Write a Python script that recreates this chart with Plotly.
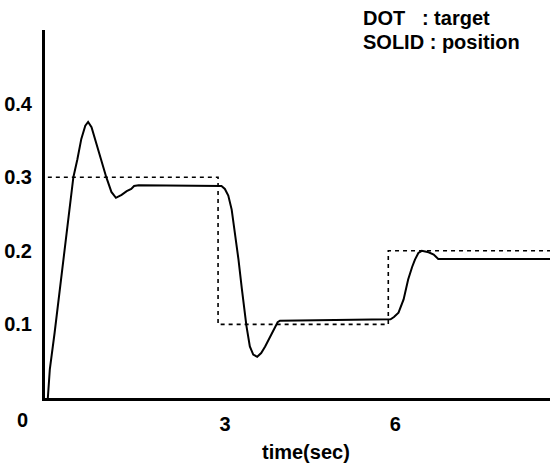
import plotly.graph_objects as go

# ---- data ----
target_time = [0.0, 3.0, 6.0, 8.85]
target_value = [0.3, 0.1, 0.2, 0.2]

position_time = [0.0, 0.035, 0.12, 0.26, 0.39, 0.45, 0.52, 0.59, 0.66, 0.71, 0.77,
                 0.83, 0.93, 1.03, 1.12, 1.2, 1.3, 1.39, 1.47, 1.52, 1.6, 2.5,
                 3.06, 3.12, 3.18, 3.24, 3.3, 3.36, 3.42, 3.47, 3.5, 3.56, 3.62,
                 3.69, 3.76, 3.83, 3.95, 4.05, 4.09, 5.0, 6.04, 6.1, 6.18, 6.27,
                 6.35, 6.42, 6.47, 6.53, 6.59, 6.65, 6.71, 6.8, 6.88, 7.5, 8.85]
position_value = [0.0, 0.039, 0.089, 0.179, 0.256, 0.30, 0.324, 0.352, 0.370, 0.375, 0.368,
                  0.352, 0.324, 0.30, 0.28, 0.272, 0.276, 0.281, 0.284, 0.288, 0.289, 0.289,
                  0.288, 0.284, 0.275, 0.256, 0.225, 0.188, 0.148, 0.111, 0.098, 0.07, 0.059,
                  0.056, 0.061, 0.07, 0.089, 0.103, 0.105, 0.106, 0.107, 0.11, 0.116, 0.134,
                  0.161, 0.178, 0.188, 0.197, 0.2, 0.199, 0.198, 0.195, 0.189, 0.189, 0.189]

x_tick_values = [3, 6]
x_tick_labels = ["3", "6"]
origin_label = "0"
y_tick_values = [0.1, 0.2, 0.3, 0.4]
y_tick_labels = ["0.1", "0.2", "0.3", "0.4"]

legend_lines = ["DOT\u00a0\u00a0\u00a0: target", "SOLID : position"]
x_title = "time(sec)"

FONT = "Liberation Sans, Arial, Helvetica, sans-serif"

fig = go.Figure()
fig.add_trace(go.Scatter(
    x=target_time, y=target_value, mode="lines", line_shape="hv",
    line=dict(color="black", width=1.6, dash="4px,4px"), hoverinfo="skip",
    showlegend=False))
fig.add_trace(go.Scatter(
    x=position_time, y=position_value, mode="lines",
    line=dict(color="black", width=2), hoverinfo="skip", showlegend=False))

annotations = []
for i, txt in enumerate(legend_lines):
    annotations.append(dict(
        text=f"<b>{txt}</b>", xref="paper", yref="paper",
        x=0.6257, y=[1.0326, 0.967][i], xanchor="left", yanchor="middle",
        showarrow=False, font=dict(family=FONT, size=20, color="black")))
annotations.append(dict(
    text=f"<b>{x_title}</b>", xref="paper", yref="paper", x=0.517, y=-0.147,
    xanchor="center", yanchor="middle", showarrow=False,
    font=dict(family=FONT, size=20, color="black")))
annotations.append(dict(
    text=f"<b>{origin_label}</b>", xref="x", yref="y", x=0, y=0,
    xanchor="center", yanchor="middle", xshift=-25, yshift=-22, showarrow=False,
    font=dict(family=FONT, size=20, color="black")))

fig.update_layout(
    width=550, height=464,
    margin=dict(l=45, r=0, t=30, b=66, autoexpand=False),
    paper_bgcolor="white", plot_bgcolor="white",
    font=dict(family=FONT, size=20, color="black"),
    annotations=annotations,
    xaxis=dict(range=[-0.05, 8.85], showgrid=False, zeroline=False,
               automargin=False,
               showline=True, linecolor="black", linewidth=3,
               tickvals=x_tick_values,
               ticktext=[f"<b>{t}</b>" for t in x_tick_labels],
               ticks="", ticklabelstandoff=6, ticklabelshift=7,
               tickfont=dict(family=FONT, size=20, color="black")),
    yaxis=dict(range=[0, 0.5], showgrid=False, zeroline=False,
               automargin=False,
               showline=True, linecolor="black", linewidth=3,
               tickvals=y_tick_values,
               ticktext=[f"<b>{t}</b>" for t in y_tick_labels],
               ticks="", ticklabelstandoff=6,
               tickfont=dict(family=FONT, size=20, color="black")),
)

fig.write_html("out.html", config={"displayModeBar": False},
               post_script="document.body.style.margin='0';")
